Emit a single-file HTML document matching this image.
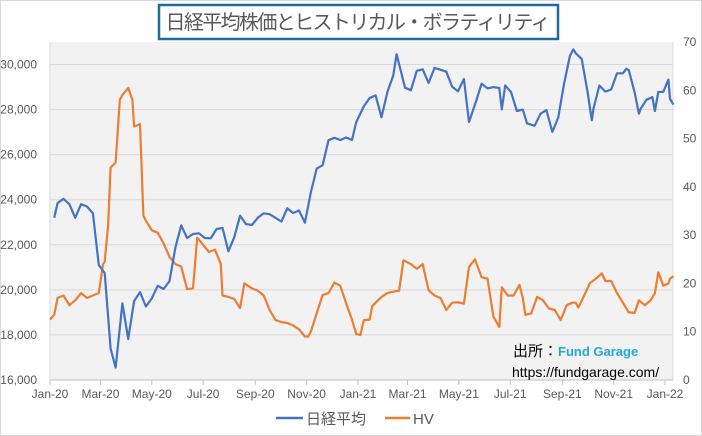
<!DOCTYPE html>
<html><head><meta charset="utf-8">
<style>
body{margin:0;background:#fff;}
#wrap{position:relative;width:702px;height:436px;overflow:hidden;background:#fff;font-family:"Liberation Sans","Noto Sans CJK JP",sans-serif;}
</style></head>
<body>
<div id="wrap">
<svg id="chart" width="702" height="436" style="position:absolute;left:0;top:0"></svg>
</div>
<script>
const nikkeiDates = ["2020-01-06","2020-01-10","2020-01-17","2020-01-24","2020-01-31","2020-02-07","2020-02-14","2020-02-21","2020-02-28","2020-03-06","2020-03-13","2020-03-19","2020-03-27","2020-04-03","2020-04-10","2020-04-17","2020-04-24","2020-05-01","2020-05-08","2020-05-15","2020-05-22","2020-05-29","2020-06-05","2020-06-12","2020-06-19","2020-06-26","2020-07-03","2020-07-10","2020-07-17","2020-07-24","2020-07-31","2020-08-07","2020-08-14","2020-08-21","2020-08-28","2020-09-04","2020-09-11","2020-09-18","2020-09-25","2020-10-02","2020-10-09","2020-10-16","2020-10-23","2020-10-30","2020-11-06","2020-11-13","2020-11-20","2020-11-27","2020-12-04","2020-12-11","2020-12-18","2020-12-25","2020-12-30","2021-01-08","2021-01-15","2021-01-22","2021-01-29","2021-02-05","2021-02-12","2021-02-16","2021-02-19","2021-02-26","2021-03-05","2021-03-12","2021-03-19","2021-03-26","2021-04-02","2021-04-09","2021-04-16","2021-04-23","2021-04-30","2021-05-07","2021-05-13","2021-05-21","2021-05-28","2021-06-04","2021-06-11","2021-06-18","2021-06-21","2021-06-25","2021-07-02","2021-07-09","2021-07-16","2021-07-21","2021-07-30","2021-08-06","2021-08-13","2021-08-20","2021-08-27","2021-09-03","2021-09-10","2021-09-14","2021-09-17","2021-09-24","2021-10-01","2021-10-06","2021-10-08","2021-10-15","2021-10-22","2021-10-29","2021-11-05","2021-11-12","2021-11-16","2021-11-19","2021-11-26","2021-12-01","2021-12-03","2021-12-10","2021-12-17","2021-12-20","2021-12-24","2021-12-30","2022-01-05","2022-01-07","2022-01-11"];
const nikkeiValues = [23200,23850,24040,23800,23200,23800,23700,23400,21100,20750,17400,16550,19400,17820,19500,19900,19260,19620,20180,20040,20390,21880,22860,22300,22480,22510,22300,22290,22700,22750,21710,22330,23290,22920,22880,23200,23400,23360,23200,23030,23620,23410,23520,22980,24320,25380,25530,26640,26750,26650,26760,26650,27440,28140,28520,28630,27660,28780,29520,30460,30020,28970,28860,29720,29790,29180,29850,29770,29680,29020,28810,29360,27450,28320,29150,28940,29000,28960,28010,29070,28780,27940,28000,27390,27280,27820,27980,27010,27640,29130,30380,30670,30500,30250,28770,27530,28050,29070,28800,28890,29610,29610,29810,29750,28750,27820,28030,28440,28550,27940,28780,28790,29330,28480,28220];
const hvDates = ["2020-01-01","2020-01-06","2020-01-10","2020-01-17","2020-01-24","2020-01-31","2020-02-07","2020-02-14","2020-02-21","2020-02-28","2020-03-04","2020-03-06","2020-03-10","2020-03-13","2020-03-19","2020-03-24","2020-03-27","2020-04-03","2020-04-08","2020-04-10","2020-04-17","2020-04-21","2020-04-24","2020-05-01","2020-05-08","2020-05-15","2020-05-22","2020-05-29","2020-06-05","2020-06-12","2020-06-19","2020-06-24","2020-07-01","2020-07-08","2020-07-15","2020-07-22","2020-07-24","2020-07-31","2020-08-07","2020-08-14","2020-08-19","2020-08-28","2020-09-04","2020-09-11","2020-09-18","2020-09-25","2020-10-02","2020-10-09","2020-10-16","2020-10-23","2020-10-30","2020-11-03","2020-11-06","2020-11-13","2020-11-20","2020-11-27","2020-12-04","2020-12-11","2020-12-18","2020-12-25","2020-12-30","2021-01-04","2021-01-08","2021-01-15","2021-01-18","2021-01-22","2021-01-29","2021-02-05","2021-02-12","2021-02-19","2021-02-24","2021-03-05","2021-03-12","2021-03-19","2021-03-26","2021-04-02","2021-04-09","2021-04-16","2021-04-23","2021-04-30","2021-05-07","2021-05-13","2021-05-20","2021-05-28","2021-06-04","2021-06-11","2021-06-18","2021-06-21","2021-06-28","2021-07-05","2021-07-12","2021-07-16","2021-07-19","2021-07-26","2021-08-02","2021-08-09","2021-08-16","2021-08-23","2021-08-30","2021-09-06","2021-09-13","2021-09-17","2021-09-20","2021-09-27","2021-10-04","2021-10-11","2021-10-18","2021-10-22","2021-10-29","2021-11-05","2021-11-12","2021-11-19","2021-11-26","2021-12-01","2021-12-08","2021-12-15","2021-12-20","2021-12-24","2021-12-30","2022-01-05","2022-01-07","2022-01-11"];
const hvValues = [12.5,13.5,17,17.5,15.5,16.5,18,17,17.5,18,24,24.5,32,44,45,58,59,60.5,58,52.5,53,34,33,31,30.5,28.3,25.5,24,23.5,18.8,19,29.5,28,26.5,27,24,17.5,17.2,16.8,14.9,20,19,18.5,17.5,14.5,12.4,12,11.8,11.3,10.5,9,9,10,13.8,17.6,18,20.2,19.5,15.9,12.5,9.5,9.3,12.4,12.5,15.3,16,17.2,18,18.3,18.5,24.8,24,23,24,18.6,17.5,17,14.5,16,16.1,15.8,23.4,25,21.3,21,13.1,11,19.2,17.5,17.5,19.7,17,13.5,13.8,17.2,16.5,14.8,14.5,12.4,15.5,16,16,15,17.5,20.1,21,22.1,20.5,20.5,18,16,14,13.9,16.5,15.5,16.5,18,22.3,19.5,20,21,21.5];
const leftTicks = [16000,18000,20000,22000,24000,26000,28000,30000];
const rightTicks = [0,10,20,30,40,50,60,70];
const xTickLabels = ["Jan-20","Mar-20","May-20","Jul-20","Sep-20","Nov-20","Jan-21","Mar-21","May-21","Jul-21","Sep-21","Nov-21","Jan-22"];
const xTickDates = ["2020-01-01","2020-03-01","2020-05-01","2020-07-01","2020-09-01","2020-11-01","2021-01-01","2021-03-01","2021-05-01","2021-07-01","2021-09-01","2021-11-01","2022-01-01"];

const NS="http://www.w3.org/2000/svg";
const svg=document.getElementById('chart');
const PL=50,PR=673,PT=42,PB=380;
const d0=Date.UTC(2020,0,1), d1=Date.UTC(2022,0,1);
function ms(s){const p=s.split('-');return Date.UTC(+p[0],+p[1]-1,+p[2]);}
function xs(s){return 50+(ms(s)-d0)/(d1-d0)*615;}
function yL(v){return PB-(v-16000)/15000*(PB-PT);}
function yR(v){return PB-v/70*(PB-PT);}
function mk(t,a){const e=document.createElementNS(NS,t);for(const k in a)e.setAttribute(k,a[k]);svg.appendChild(e);return e;}
function txt(x,y,s,a){const e=mk('text',Object.assign({x:x,y:y,'font-size':12,fill:'#595959','font-family':'"Liberation Sans","Noto Sans CJK JP",sans-serif'},a));e.textContent=s;return e;}

let e=mk('rect',{x:0.5,y:0.5,width:701,height:435,fill:'#fff',stroke:'#d9d9d9'});


e=mk('rect',{x:PL,y:PT,width:PR-PL,height:PB-PT,fill:'#f2f2f2'});



leftTicks.forEach(v=>{
  const y=yL(v);
  if(v>16000){e=mk('line',{x1:PL,x2:PR,y1:y,y2:y,stroke:'#d9d9d9','stroke-width':1});
  
  }
  e=txt(PL-13,y+4,v.toLocaleString('en-US'),{'text-anchor':'end'});
  
  
});
rightTicks.forEach(v=>{
  e=txt(683,yR(v)+4,String(v),{});
  
  
});
e=mk('line',{x1:PL,x2:PR,y1:PB,y2:PB,stroke:'#bfbfbf'});


e=mk('line',{x1:PR,x2:PR,y1:PT,y2:PB,stroke:'#d9d9d9'});


e=mk('line',{x1:PL,x2:PL,y1:PT,y2:PB,stroke:'#d9d9d9'});


xTickDates.forEach((d,i)=>{
  const x=xs(d);
  e=mk('line',{x1:x,x2:x,y1:PB,y2:PB+5,stroke:'#bfbfbf'});
  
  
  e=txt(x,PB+18,xTickLabels[i],{'text-anchor':'middle'});
  
  
});

function path(dates,vals,yf,col,name){
  let d='';dates.forEach((s,i)=>{d+=(i?'L':'M')+xs(s).toFixed(1)+','+yf(vals[i]).toFixed(1);});
  const p=mk('path',{d:d,fill:'none',stroke:col,'stroke-width':2.2,'stroke-linejoin':'round'});
  
  
}
path(hvDates,hvValues,yR,'#ed7d31','hv-line');
path(nikkeiDates,nikkeiValues,yL,'#4472c4','nikkei-line');

e=txt(513,356,'出所：',{'font-size':15,fill:'#000'});


e=txt(558,356,'Fund Garage',{'font-size':13,fill:'#1fa8e0','font-weight':'bold'});


e=txt(512,377,'https://fundgarage.com/',{'font-size':14,fill:'#000'});



e=mk('rect',{x:159,y:5,width:399,height:34,fill:'#fff',stroke:'#1f6b9c','stroke-width':2.5});


e=txt(358,29,'日経平均株価とヒストリカル・ボラティリティ',{'text-anchor':'middle','font-size':20,'textLength':385});



e=mk('line',{x1:276,x2:303,y1:418,y2:418,stroke:'#4472c4','stroke-width':2.5});


e=txt(306,424,'日経平均',{'font-size':15});


e=mk('line',{x1:385,x2:410,y1:418,y2:418,stroke:'#ed7d31','stroke-width':2.5});


e=txt(413,424,'HV',{'font-size':15});


</script>
</body></html>
